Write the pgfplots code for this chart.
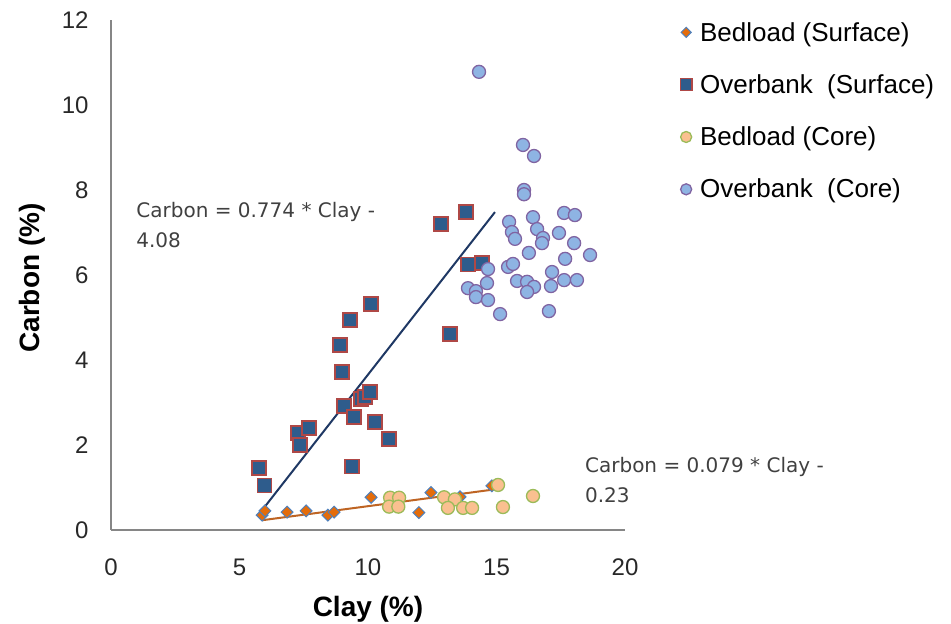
\documentclass[border=0pt]{standalone}
\usepackage{pgfplots}
\pgfplotsset{compat=1.18}
\usepackage{fontspec}
\setmainfont{Liberation Sans}
\newfontfamily\eqfont{DejaVu Sans}
\definecolor{axisgray}{RGB}{134,134,134}
\definecolor{ticktext}{RGB}{40,40,40}
\definecolor{eqtext}{RGB}{64,64,64}
\definecolor{obsfill}{RGB}{46,92,140}
\definecolor{obsedge}{RGB}{175,72,70}
\definecolor{bssfill}{RGB}{228,108,10}
\definecolor{bssedge}{RGB}{79,129,189}
\definecolor{bcfill}{RGB}{250,192,144}
\definecolor{bcedge}{RGB}{155,187,89}
\definecolor{ocfill}{RGB}{142,180,227}
\definecolor{ocedge}{RGB}{128,100,162}
\definecolor{trendA}{RGB}{31,56,100}
\definecolor{trendB}{RGB}{190,100,35}
\begin{document}
\begin{tikzpicture}
\path[use as bounding box] (0,0) rectangle (951bp,624bp);
\begin{axis}[
  at={(111bp,94bp)}, anchor=south west,
  scale only axis, width=514bp, height=510bp,
  xmin=0, xmax=20, ymin=0, ymax=12,
  xtick={0,5,10,15,20}, ytick={0,2,4,6,8,10,12},
  axis x line*=bottom, axis y line*=left,
  axis line style={draw=axisgray, line width=1.5bp},
  major tick length=0pt,
  clip=false,
  tick label style={font=\fontsize{24bp}{28bp}\selectfont, text=ticktext},
  /pgf/number format/assume math mode=true,
  yticklabel style={xshift=-19bp},
  xticklabel style={yshift=-25bp},
  xlabel={\textbf{Clay (\%)}}, ylabel={\textbf{Carbon (\%)}},
  label style={font=\fontsize{28bp}{32bp}\selectfont, text=black},
  xlabel style={at={(axis description cs:0.5,-0.155)}, anchor=center},
  ylabel style={at={(axis description cs:-0.154,0.494)}, anchor=center},
  legend style={at={(axis description cs:1.107,1.0)}, anchor=north west,
    draw=none, fill=none, font=\fontsize{26bp}{30bp}\selectfont,
    row sep=28bp, inner sep=0pt,
    /tikz/every odd column/.append style={column sep=6bp}},
  legend cell align=left,
  legend image post style={every mark/.append style={scale=0.85}},
]
% Bedload (Surface)
\addplot[only marks, mark=square*, mark size=4.2bp,
  mark options={rotate=45, fill=bssfill, draw=bssedge, line width=1bp}] coordinates {
(5.88,0.35) (5.99,0.45) (6.85,0.42) (7.59,0.45) (8.44,0.35) (8.68,0.42)
(10.12,0.77) (11.17,0.57) (11.98,0.41) (12.45,0.88) (13.58,0.78) (14.82,1.04)
};
\addlegendentry{Bedload (Surface)}
% Overbank (Surface)
\addplot[only marks, mark=square*, mark size=7bp,
  mark options={fill=obsfill, draw=obsedge, line width=1.3bp}] coordinates {
(5.76,1.46) (5.98,1.04) (7.28,2.28) (7.35,2.00) (7.70,2.40) (8.91,4.35)
(8.99,3.72) (9.07,2.92) (9.30,4.94) (9.38,1.50) (9.46,2.66) (9.73,3.08)
(9.88,3.13) (10.08,3.25) (10.12,5.32) (10.27,2.54) (10.82,2.14) (12.84,7.20)
(13.19,4.61) (13.81,7.48) (13.89,6.24) (14.44,6.28)
};
\addlegendentry{Overbank\ \ (Surface)}
% Bedload (Core)
\addplot[only marks, mark=*, mark size=6.5bp,
  mark options={fill=bcfill, draw=bcedge, line width=1.3bp}] coordinates {
(10.86,0.76) (11.21,0.76) (10.82,0.55) (11.18,0.55) (12.96,0.77) (13.38,0.72)
(13.11,0.52) (13.70,0.52) (14.05,0.52) (15.06,1.06) (15.25,0.54) (16.42,0.80)
};
\addlegendentry{Bedload (Core)}
% Overbank (Core)
\addplot[only marks, mark=*, mark size=6.5bp,
  mark options={fill=ocfill, draw=ocedge, line width=1.3bp}] coordinates {
(14.32,10.78) (16.03,9.06) (16.46,8.80) (16.07,8.00) (16.07,7.90) (17.63,7.46)
(18.05,7.41) (16.42,7.36) (15.49,7.25) (16.58,7.08) (15.60,7.01) (17.43,6.99)
(15.72,6.85) (16.81,6.87) (16.77,6.75) (18.02,6.75) (16.26,6.52) (18.64,6.47)
(17.67,6.38) (14.67,6.14) (15.45,6.19) (15.64,6.26) (17.16,6.07) (15.80,5.86)
(16.19,5.84) (16.46,5.72) (16.19,5.60) (17.12,5.74) (17.63,5.88) (18.13,5.88)
(13.89,5.69) (14.20,5.62) (14.20,5.48) (14.63,5.81) (14.67,5.41) (15.14,5.08)
(17.04,5.15)
};
\addlegendentry{Overbank\ \ (Core)}
% trend lines
\addplot[forget plot, draw=trendA, line width=2bp] coordinates {(5.82,0.42) (14.94,7.48)};
\addplot[forget plot, draw=trendB, line width=2bp] coordinates {(5.88,0.23) (14.86,0.95)};
\node[anchor=north west, align=left, inner sep=0pt, text=eqtext,
  font=\eqfont\fontsize{20bp}{30bp}\selectfont] at (axis cs:0.98,7.72)
  {Carbon = 0.774 * Clay -\\4.08};
\node[anchor=north west, align=left, inner sep=0pt, text=eqtext,
  font=\eqfont\fontsize{20bp}{30bp}\selectfont] at (axis cs:18.44,1.72)
  {Carbon = 0.079 * Clay -\\0.23};
\end{axis}
\end{tikzpicture}
\end{document}
